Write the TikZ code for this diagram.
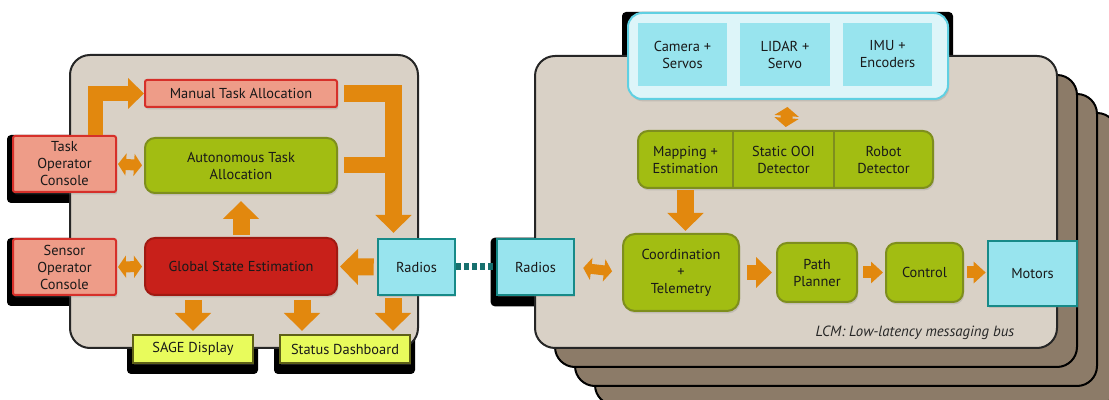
\documentclass[tikz,border=0pt]{standalone}
\usepackage{fontspec}
\setmainfont{PT Sans}
\usetikzlibrary{arrows.meta,shadows}

\definecolor{panelgray}{HTML}{D9D1C6}
\definecolor{cardbrown}{HTML}{8C7B68}
\definecolor{salmon}{HTML}{EE9C88}
\definecolor{salmonedge}{HTML}{D6302A}
\definecolor{gsered}{HTML}{C8201A}
\definecolor{gseedge}{HTML}{A01A12}
\definecolor{leaf}{HTML}{A2BD12}
\definecolor{leafedge}{HTML}{7E8E1E}
\definecolor{lemon}{HTML}{E8FB5C}
\definecolor{lemonedge}{HTML}{5E6018}
\definecolor{sky}{HTML}{98E4EE}
\definecolor{skyedge}{HTML}{178A88}
\definecolor{skypale}{HTML}{DDF5F9}
\definecolor{skyrim}{HTML}{5FD0E2}
\definecolor{amber}{HTML}{E2880E}
\definecolor{linkteal}{HTML}{17706E}

\pgfdeclarelayer{shade}
\pgfdeclarelayer{back}
\pgfsetlayers{shade,back,main}

\tikzset{
  sysbox/.style={draw, line width=1pt, align=center, text=black!90, inner sep=1pt,
    font=\fontsize{7.2}{8.5}\selectfont,
    drop shadow={shadow xshift=0.6pt, shadow yshift=-1.2pt, opacity=0.25}},
  human/.style={sysbox, fill=salmon, draw=salmonedge, rounded corners=1pt},
  proc/.style={sysbox, fill=leaf, draw=leafedge, rounded corners=5pt},
  core/.style={sysbox, fill=gsered, draw=gseedge, rounded corners=5pt},
  display/.style={sysbox, fill=lemon, draw=lemonedge},
  hw/.style={sysbox, fill=sky, draw=skyedge, line width=1.3pt},
  cell/.style={fill=sky, align=center, text=black!90, inner sep=1pt, font=\fontsize{7.2}{8.5}\selectfont},
  part/.style={align=center, text=black!90, inner sep=1pt, font=\fontsize{7.2}{8.5}\selectfont},
  panel/.style={draw=black!85, line width=1pt, fill=panelgray, rounded corners=10pt},
  card/.style={draw=black, line width=1pt, fill=cardbrown, rounded corners=10pt},
  bigflow/.style={draw=amber, line width=8.5pt, -{Triangle[length=9pt,width=17.5pt]}},
  flow/.style={draw=amber, line width=7.5pt, -{Triangle[length=8pt,width=15pt]}},
  thinflow/.style={draw=amber, line width=6pt, -{Triangle[length=6pt,width=10.5pt]}},
  twoway/.style={draw=amber, line width=5.5pt, {Triangle[length=4pt,width=11pt]}-{Triangle[length=4pt,width=11pt]}},
  radiolink/.style={draw=linkteal, line width=3.5pt, dash pattern=on 2.5pt off 1.5pt}
}

\begin{document}
\begin{tikzpicture}[x=0.5pt, y=-0.5pt]
\useasboundingbox (0,0) rectangle (1109,400);

% base station
\node[human, minimum width=96pt, minimum height=13.5pt] (manual) at (241,93.5) {Manual Task Allocation};
\node[proc, minimum width=96pt, minimum height=27.5pt] (auto) at (241,165.5) {Autonomous Task\\Allocation};
\node[human, minimum width=51.5pt, minimum height=28pt] (taskop) at (64.5,164) {Task\\Operator\\Console};
\node[human, minimum width=51.5pt, minimum height=28pt] (sensop) at (64.5,267) {Sensor\\Operator\\Console};
\node[core, minimum width=96pt, minimum height=28.5pt] (gse) at (241,266.5) {Global State Estimation};
\node[hw, minimum width=38.5pt, minimum height=28pt] (radiosl) at (416.5,267) {Radios};
\node[display, minimum width=60pt, minimum height=14pt] (sage) at (193,349) {SAGE Display};
\node[display, minimum width=65pt, minimum height=14pt] (status) at (345,349) {Status Dashboard};

% robot
\node[hw, minimum width=38.5pt, minimum height=28pt] (radiosr) at (535.5,267) {Radios};
\node[proc, rounded corners=6pt, minimum width=58pt, minimum height=38.5pt] (coord) at (681,272.5) {Coordination\\+\\Telemetry};
\node[proc, minimum width=40pt, minimum height=29.5pt] (planner) at (817,272.5) {Path\\Planner};
\node[proc, minimum width=38.5pt, minimum height=29.5pt] (control) at (924.5,272.5) {Control};
\node[hw, minimum width=44.5pt, minimum height=32.5pt] (motors) at (1032.5,273.5) {Motors};

\node[sysbox, fill=skypale, draw=skyrim, rounded corners=7pt, minimum width=160pt, minimum height=43pt] (sensors) at (788,56) {};
\node[cell, minimum width=44.5pt, minimum height=31.5pt] (camera) at (682.5,54.5) {Camera +\\Servos};
\node[cell, minimum width=45pt, minimum height=31.5pt] (lidar) at (785,54.5) {LIDAR +\\Servo};
\node[cell, minimum width=44.5pt, minimum height=31.5pt] (imu) at (887.5,54.5) {IMU +\\Encoders};

\node[proc, minimum width=147.5pt, minimum height=28.5pt] (dets) at (785.5,159.5) {};
\node[part, minimum width=47.5pt, minimum height=28.5pt] (mapping) at (685.5,159.5) {Mapping +\\Estimation};
\node[part, minimum width=50.5pt, minimum height=28.5pt] (ooi) at (783.5,159.5) {Static OOI\\Detector};
\node[part, minimum width=49.5pt, minimum height=28.5pt] (robots) at (883.5,159.5) {Robot\\Detector};
\draw[leafedge, line width=1pt] (mapping.north east) -- (mapping.south east);
\draw[leafedge, line width=1pt] (ooi.north east) -- (ooi.south east);

\node[text=black!85, font=\fontsize{7.4}{8.5}\selectfont\itshape] (lcm) at (915,333) {LCM: Low-latency messaging bus};

\begin{pgfonlayer}{back}
  \foreach \k in {3,2,1}
    \draw[card] (535+20*\k,56+19*\k) rectangle (1057+20*\k,348+19*\k);
  \draw[panel] (535,56) rectangle (1057,348);
  \draw[panel] (70,55) rectangle (418,348);
\end{pgfonlayer}

\begin{pgfonlayer}{shade}
  \foreach \n in {taskop,sensop,sage,status,radiosr,sensors}
    \fill[black, rounded corners=2pt] ([xshift=-2.5pt]\n.north west) rectangle ([xshift=2pt,yshift=-5pt]\n.south east);
\end{pgfonlayer}

\coordinate (drop) at (393.5,233);
\draw[flow] ([xshift=15.25pt]taskop.north) |- (manual.west);
\draw[bigflow, shorten <=3pt] (manual.east) -| (drop);
\draw[amber, line width=8pt, shorten <=3pt] (auto.east) -- (auto.east -| drop);
\draw[bigflow, shorten <=1pt, shorten >=3.5pt] (gse.north) -- (auto.south);
\draw[twoway, shorten <=0.5pt, shorten >=1pt] (taskop.east) -- (auto.west);
\draw[twoway, shorten <=0.5pt, shorten >=1pt] (sensop.east) -- (gse.west);
\draw[bigflow, shorten <=1.5pt, shorten >=1pt] (radiosl.west) -- (gse.east);
\draw[bigflow, shorten <=2pt, shorten >=1.5pt] (gse.south -| sage.north) -- (sage.north);
\draw[bigflow, shorten <=2pt, shorten >=1.5pt] ([xshift=30.5pt]gse.south) -- ([xshift=30.5pt]gse.south |- status.north);
\draw[bigflow, shorten <=1pt, shorten >=1.5pt] ([xshift=-11.75pt]radiosl.south) -- ([xshift=-11.75pt]radiosl.south |- status.north);

\draw[radiolink] (radiosl.east) -- (radiosr.west);

\draw[twoway, line width=5pt, shorten <=4pt, shorten >=5pt] (radiosr.east) -- (coord.west);
\draw[twoway, line width=6pt, {Triangle[length=4.5pt,width=12pt]}-{Triangle[length=4.5pt,width=12pt]}, shorten <=3.5pt, shorten >=1.5pt] (sensors.south) -- (dets.north);
\draw[bigflow, shorten <=1pt, shorten >=1pt] (mapping.south) -- (mapping.south |- coord.north);
\draw[flow, shorten <=3.5pt, shorten >=2pt] (coord.east) -- (planner.west);
\draw[thinflow, shorten <=2.5pt, shorten >=1pt] (planner.east) -- (control.west);
\draw[thinflow, shorten <=1.5pt, shorten >=0.5pt] (control.east) -- (control.east -| motors.west);
\end{tikzpicture}
\end{document}
